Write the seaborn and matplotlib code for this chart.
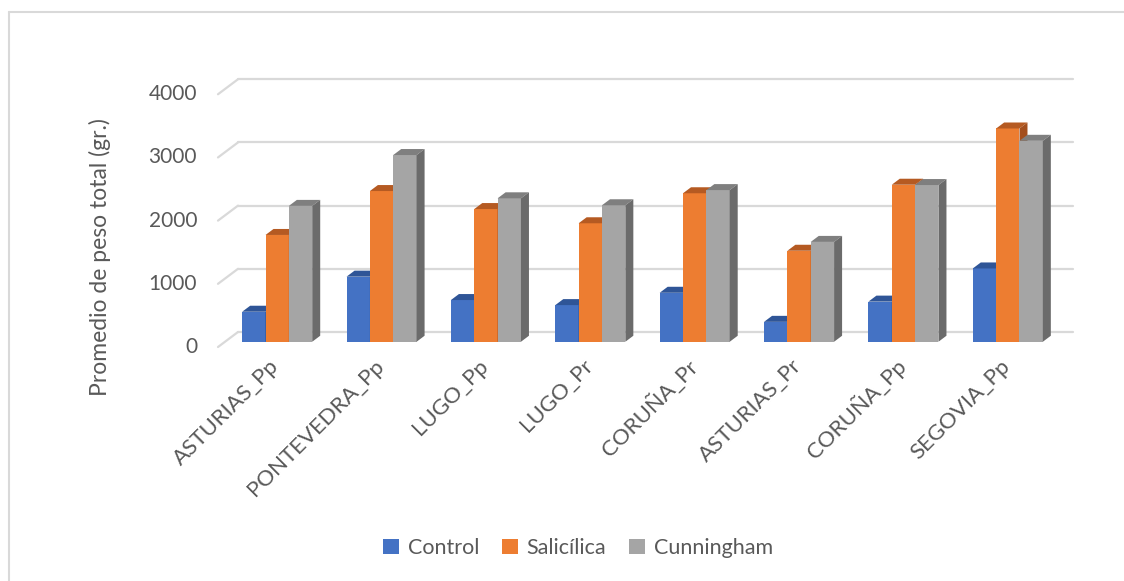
import matplotlib
matplotlib.use("Agg")
import matplotlib.pyplot as plt
from matplotlib.patches import Polygon, Patch
from matplotlib.lines import Line2D
import seaborn as sns
import pandas as pd

# Average total weight per provenance and treatment
categories = ["ASTURIAS_Pp", "PONTEVEDRA_Pp", "LUGO_Pp", "LUGO_Pr",
              "CORUÑA_Pr", "ASTURIAS_Pr", "CORUÑA_Pp", "SEGOVIA_Pp"]
control = [475, 1030, 660, 580, 775, 315, 635, 1160]
salicilica = [1690, 2385, 2100, 1875, 2350, 1440, 2485, 3375]
cunningham = [2150, 2955, 2270, 2160, 2400, 1580, 2480, 3180]
series = ["Control", "Salicílica", "Cunningham"]
yticks = [0, 1000, 2000, 3000, 4000]

front_colors = ["#4472C4", "#ED7D31", "#A5A5A5"]
top_colors = ["#2F5597", "#B55A22", "#7F7F7F"]
side_colors = ["#2C4F8E", "#A34F1E", "#6B6B6B"]
text_color = "#595959"
grid_color = "#D9D9D9"

df = pd.DataFrame({
    "cat": categories * 3,
    "serie": [s for s in series for _ in categories],
    "val": control + salicilica + cunningham,
})

sns.set_theme(style="white")
plt.rcParams["font.family"] = ["Lato", "DejaVu Sans"]

W, H = 1124, 581
fig = plt.figure(figsize=(W / 100, H / 100), dpi=100)

# Axes sits in the plane of the bars' front faces (pixel geometry below)
x0_px, x1_px = 225, 1060
y0_px, y1_px = 341.75, 89.0          # pixel rows (from top) of 0 and 4000
ax = fig.add_axes([x0_px / W, 1 - y0_px / H, (x1_px - x0_px) / W, (y0_px - y1_px) / H])
ax.set_xlim(-0.5, len(categories) - 0.5)
ax.set_ylim(0, 4000)

px_x = (x1_px - x0_px) / len(categories)   # pixels per category
px_y = (y0_px - y1_px) / 4000               # pixels per value unit

def dx(p):
    return p / px_x

def dy(p):
    return p / px_y

# Back wall gridlines and the slanted lines running to the front plane
back = (13, 9.75)
front = (-7, -5.25)
for v in yticks:
    ax.add_line(Line2D([-0.5 + dx(back[0]), len(categories) - 0.5 + dx(back[0])],
                       [v + dy(back[1])] * 2, color=grid_color, lw=1.6,
                       zorder=0, clip_on=False))
    ax.add_line(Line2D([-0.5 + dx(front[0]), -0.5 + dx(back[0])],
                       [v + dy(front[1]), v + dy(back[1])], color=grid_color,
                       lw=1.6, zorder=0, clip_on=False))
    ax.text(-0.5 + dx(-28), v + dy(front[1]), f"{v}", ha="right", va="center",
            fontsize=15, color=text_color)

sns.barplot(data=df, x="cat", y="val", hue="serie", hue_order=series,
            order=categories, palette=front_colors, saturation=1,
            width=0.671, gap=0, ax=ax, errorbar=None, legend=False)

# Depth faces for each bar
ddx, ddy = dx(8), dy(6)
for i, container in enumerate(ax.containers):
    for rect in container:
        rect.set_zorder(2 + i)
        rect.set_edgecolor("none")
        rect.set_clip_on(False)
        x, w, h = rect.get_x(), rect.get_width(), rect.get_height()
        top = Polygon([(x, h), (x + w, h), (x + w + ddx, h + ddy), (x + ddx, h + ddy)],
                      closed=True, facecolor=top_colors[i], edgecolor="none",
                      zorder=2 + i, clip_on=False)
        side = Polygon([(x + w, 0), (x + w + ddx, ddy), (x + w + ddx, h + ddy), (x + w, h)],
                       closed=True, facecolor=side_colors[i], edgecolor="none",
                       zorder=2 + i, clip_on=False)
        ax.add_patch(top)
        ax.add_patch(side)

ax.set_xlabel("")
ax.set_ylabel("")
ax.set_yticks([])
ax.set_xticks(range(len(categories)))
ax.set_xticklabels([])
ax.tick_params(length=0)
for s in ax.spines.values():
    s.set_visible(False)
ax.patch.set_alpha(0)

for k, c in enumerate(categories):
    ax.text(k + dx(-1), dy(-21), c, rotation=45, rotation_mode="anchor",
            ha="right", va="center", fontsize=16, color=text_color)

fig.text(100 / W, 1 - 257 / H, "Promedio de peso total (gr.)", rotation=90,
         ha="center", va="center", fontsize=16.5, color=text_color)

handles = [Patch(facecolor=c, edgecolor="none") for c in front_colors]
fig.legend(handles, series, loc="center", bbox_to_anchor=(578 / W, 1 - 548 / H),
           ncol=3, frameon=False, fontsize=15.5, handlelength=0.75, handleheight=0.75,
           handletextpad=0.4, columnspacing=1.05, labelcolor=text_color)

# Chart area border (top and left edges)
fig.add_artist(Line2D([8.5 / W, 1], [1 - 11.5 / H] * 2, color=grid_color, lw=1.5))
fig.add_artist(Line2D([8.5 / W] * 2, [0, 1 - 11.5 / H], color=grid_color, lw=1.5))

fig.savefig("out.png", dpi=100, facecolor="white")
